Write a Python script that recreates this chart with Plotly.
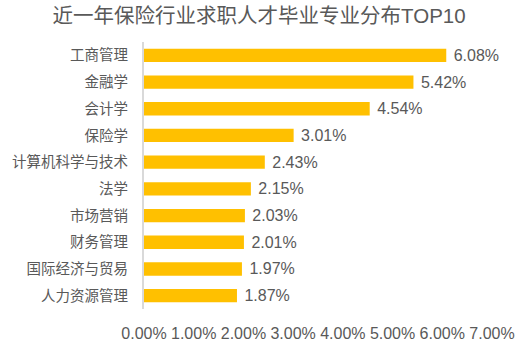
import plotly.graph_objects as go

categories = ["工商管理", "金融学", "会计学", "保险学", "计算机科学与技术",
              "法学", "市场营销", "财务管理", "国际经济与贸易", "人力资源管理"]
values = [6.08, 5.42, 4.54, 3.01, 2.43, 2.15, 2.03, 2.01, 1.97, 1.87]
tick_vals = [0, 1, 2, 3, 4, 5, 6, 7]
tick_text = ["0.00%", "1.00%", "2.00%", "3.00%", "4.00%", "5.00%", "6.00%", "7.00%"]
title = "近一年保险行业求职人才毕业专业分布TOP10"

font_fam = "Liberation Sans, Noto Sans CJK SC, sans-serif"

fig = go.Figure(go.Bar(
    x=values, y=categories, orientation="h",
    marker=dict(color="#FFC000", line=dict(width=0)),
    text=[f" {v:.2f}%" for v in values],
    textposition="outside", cliponaxis=False, constraintext="none",
    textfont=dict(size=16, color="#595959", family=font_fam),
    width=0.5,
))

fig.update_layout(
    width=531, height=354,
    margin=dict(l=142, r=39, t=42, b=32),
    paper_bgcolor="white", plot_bgcolor="white",
    showlegend=False,
    title=dict(text=title, x=0.488, xanchor="center", y=0.955, yanchor="middle",
               font=dict(size=20.5, color="#595959", family=font_fam)),
    xaxis=dict(range=[0, 7], tickvals=tick_vals, ticktext=tick_text,
               showgrid=False, zeroline=False, showline=False,
               ticks="outside", ticklen=10, tickcolor="rgba(0,0,0,0)",
               tickfont=dict(size=16, color="#595959", family=font_fam)),
    yaxis=dict(autorange="reversed", showgrid=False, zeroline=False,
               showline=True, linecolor="#D9D9D9", linewidth=2,
               ticks="outside", ticklen=11, tickcolor="rgba(0,0,0,0)",
               tickfont=dict(size=14.5, color="#595959", family=font_fam)),
)

fig.write_html("out.html")
